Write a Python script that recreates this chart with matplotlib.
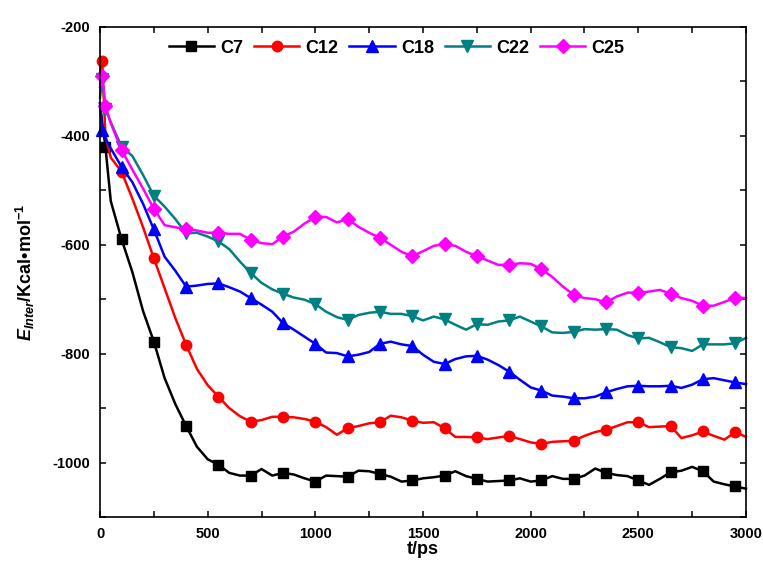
import numpy as np
import matplotlib
matplotlib.use('Agg')
import matplotlib.pyplot as plt
from matplotlib.ticker import MultipleLocator

plt.rcParams['font.family'] = ['Liberation Sans', 'DejaVu Sans']
plt.rcParams['font.weight'] = 'bold'
plt.rcParams['axes.unicode_minus'] = False
plt.rcParams['mathtext.fontset'] = 'custom'
plt.rcParams['mathtext.rm'] = 'Liberation Sans:bold'
plt.rcParams['mathtext.it'] = 'Liberation Sans:italic:bold'
plt.rcParams['mathtext.bf'] = 'Liberation Sans:bold'

# simulation time (ps)
t = np.r_[0, 10, 25, np.arange(50, 3001, 50)]

c7 = [-340, -375, -420, -520, -590, -650, -722, -778, -845, -893,
      -933, -971, -994, -1004, -1019, -1024, -1024, -1012, -1024, -1019,
      -1022, -1029, -1035, -1024, -1025, -1026, -1015, -1016, -1021, -1026,
      -1035, -1033, -1029, -1027, -1024, -1016, -1025, -1030, -1035, -1034,
      -1033, -1029, -1035, -1033, -1025, -1030, -1030, -1024, -1011, -1019,
      -1023, -1025, -1033, -1041, -1030, -1018, -1015, -1008, -1016, -1035,
      -1040, -1044, -1048]
c12 = [-290, -262, -400, -440, -466, -515, -568, -625, -680, -735,
       -784, -828, -858, -879, -900, -915, -925, -922, -916, -916,
       -917, -920, -925, -935, -949, -937, -933, -928, -926, -914,
       -917, -923, -927, -926, -937, -953, -953, -954, -957, -954,
       -951, -957, -963, -966, -962, -961, -960, -951, -944, -940,
       -933, -926, -926, -935, -934, -933, -955, -950, -943, -951,
       -958, -944, -953]
c18 = [-340, -390, -405, -423, -457, -485, -525, -572, -622, -648,
       -677, -675, -672, -671, -678, -686, -698, -710, -723, -744,
       -756, -769, -782, -798, -799, -805, -802, -797, -782, -778,
       -783, -786, -802, -815, -819, -810, -805, -804, -811, -821,
       -833, -848, -862, -868, -877, -879, -882, -882, -879, -871,
       -865, -860, -859, -860, -860, -859, -863, -857, -847, -845,
       -849, -853, -856]
c22 = [-330, -295, -350, -375, -420, -437, -472, -510, -530, -553,
       -579, -578, -585, -594, -608, -631, -652, -670, -682, -690,
       -697, -701, -709, -723, -733, -738, -729, -725, -723, -727,
       -727, -731, -739, -732, -737, -747, -756, -746, -747, -741,
       -739, -732, -741, -750, -761, -762, -760, -755, -756, -755,
       -756, -766, -772, -771, -779, -788, -790, -795, -783, -783,
       -783, -781, -771]
c25 = [-310, -290, -345, -377, -426, -462, -497, -534, -564, -568,
       -571, -574, -578, -578, -580, -580, -591, -597, -599, -585,
       -576, -561, -549, -549, -559, -553, -567, -578, -587, -600,
       -613, -621, -612, -602, -599, -602, -613, -621, -629, -637,
       -637, -634, -635, -645, -659, -677, -692, -698, -700, -706,
       -695, -688, -688, -686, -683, -690, -698, -703, -712, -712,
       -705, -697, -698]

labels = ['C7', 'C12', 'C18', 'C22', 'C25']
series = [c7, c12, c18, c22, c25]
colors = ['black', 'red', 'blue', '#008080', 'magenta']
markers = ['s', 'o', '^', 'v', 'D']
sizes = [6.5, 7.5, 8, 8, 7.5]
first_marks = [[2], [1], [1], [1, 2], [1, 2]]
regular = list(range(4, len(t), 3))

fig = plt.figure(figsize=(7.63, 5.65), dpi=100)
ax = fig.add_axes([0.1311, 0.085, 0.8466, 0.8673])

for y, lab, col, mk, ms, fm in zip(series, labels, colors, markers, sizes, first_marks):
    ax.plot(t, y, color=col, lw=1.8, marker=mk, ms=ms, markevery=fm + regular,
            label=lab, clip_on=False)

ax.set_xlim(0, 3000)
ax.set_ylim(-1100, -200)
ax.xaxis.set_major_locator(MultipleLocator(500))
ax.xaxis.set_minor_locator(MultipleLocator(250))
ax.yaxis.set_major_locator(MultipleLocator(200))
ax.yaxis.set_minor_locator(MultipleLocator(100))
ax.tick_params(which='both', direction='in', top=True, right=True,
               labelsize=10.5, width=1.1)
ax.tick_params(which='major', length=4.5, pad=7)
ax.tick_params(which='minor', length=4.5)
for s in ax.spines.values():
    s.set_linewidth(1.2)

ax.set_xlabel('t/ps', fontsize=13, fontweight='bold', labelpad=0)
ax.set_ylabel(r'$E_{Inter}$/Kcal•mol$^{-1}$', fontsize=13, fontweight='bold',
              labelpad=11)

ax.legend(loc='upper left', bbox_to_anchor=(0.087, 1.0), ncol=5, frameon=False,
          fontsize=13, handlelength=2.5, handletextpad=0.35, columnspacing=0.6,
          borderaxespad=0.3)

fig.savefig('out.png', dpi=100)
